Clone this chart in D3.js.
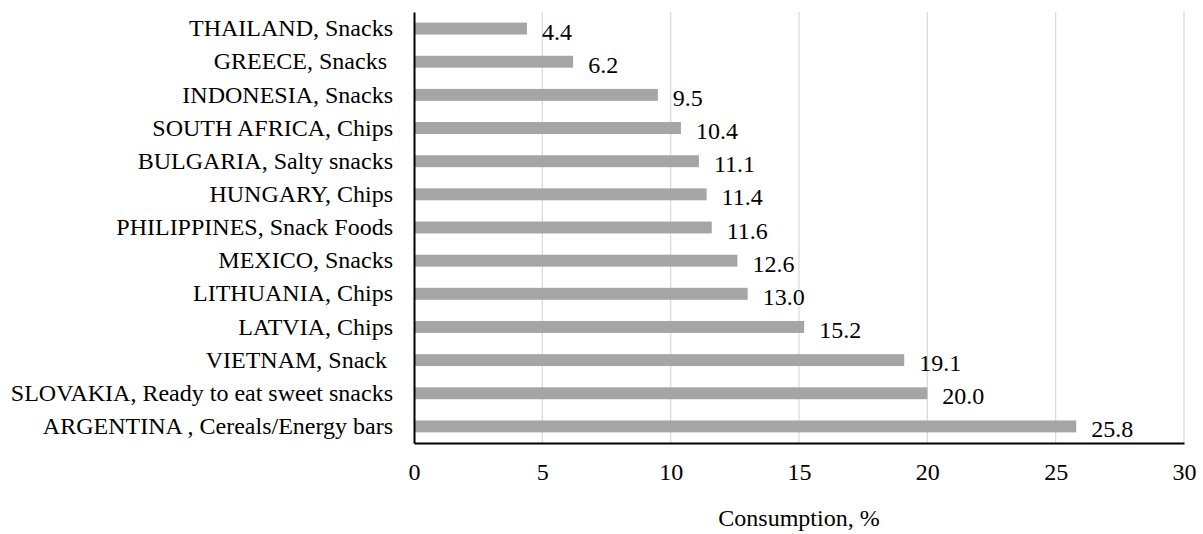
<!DOCTYPE html>
<html>
<head>
<meta charset="utf-8">
<script src="https://cdn.jsdelivr.net/npm/d3@7"></script>
<style>
  html, body { margin: 0; padding: 0; background: #fff; }
</style>
</head>
<body>
<svg id="chart" width="1203" height="534"></svg>
<script>
// Snack consumption by country and product category
const categories = [
  "THAILAND, Snacks",
  "GREECE, Snacks ",
  "INDONESIA, Snacks",
  "SOUTH AFRICA, Chips",
  "BULGARIA, Salty snacks",
  "HUNGARY, Chips",
  "PHILIPPINES, Snack Foods",
  "MEXICO, Snacks",
  "LITHUANIA, Chips",
  "LATVIA, Chips",
  "VIETNAM, Snack ",
  "SLOVAKIA, Ready to eat sweet snacks",
  "ARGENTINA , Cereals/Energy bars"
];
const values = [4.4, 6.2, 9.5, 10.4, 11.1, 11.4, 11.6, 12.6, 13.0, 15.2, 19.1, 20.0, 25.8];
const xTicks = [0, 5, 10, 15, 20, 25, 30];
const xTitle = "Consumption, %";

const FONT = "Liberation Serif";
const FS = 24;
const margin = { top: 12, right: 19, bottom: 91, left: 414 };
const width = 1203, height = 534;
const svg = d3.select("#chart");

const x = d3.scaleLinear().domain([0, 30]).range([margin.left, width - margin.right]);
const y = d3.scaleBand().domain(categories).range([margin.top, height - margin.bottom]).paddingInner(0.64).paddingOuter(0.32);

// vertical gridlines
svg.append("g")
  .selectAll("line")
  .data(xTicks.filter(d => d > 0))
  .join("line")
  .attr("x1", d => x(d)).attr("x2", d => x(d))
  .attr("y1", margin.top).attr("y2", height - margin.bottom)
  .attr("stroke", "#d9d9d9").attr("stroke-width", 1.2);

// bars
svg.append("g")
  .selectAll("rect")
  .data(values)
  .join("rect")
  .attr("x", x(0))
  .attr("y", (d, i) => y(categories[i]))
  .attr("width", d => x(d) - x(0))
  .attr("height", y.bandwidth())
  .attr("fill", "#a5a5a5");

// value labels
svg.append("g")
  .selectAll("text")
  .data(values)
  .join("text")
  .attr("x", d => x(d) + 15)
  .attr("y", (d, i) => y(categories[i]) + y.bandwidth() / 2 + 11)
  .attr("font-family", FONT)
  .attr("font-size", FS)
  .attr("fill", "#000")
  .text(d => d.toFixed(1));

// x axis
const xAxis = svg.append("g")
  .attr("transform", `translate(0,${height - margin.bottom})`)
  .call(d3.axisBottom(x).tickValues(xTicks).tickSize(0).tickPadding(20));
xAxis.attr("font-family", FONT).attr("font-size", FS);
xAxis.select(".domain").attr("stroke", "#000").attr("stroke-width", 2);
xAxis.selectAll("text").attr("fill", "#000");

// y axis
const yAxis = svg.append("g")
  .attr("transform", `translate(${margin.left},0)`)
  .call(d3.axisLeft(y).tickSize(0).tickPadding(21));
yAxis.attr("font-family", FONT).attr("font-size", FS);
yAxis.select(".domain").attr("stroke", "#000").attr("stroke-width", 2);
yAxis.selectAll("text").attr("fill", "#000").style("white-space", "pre");

// axis title
svg.append("text")
  .attr("x", (x(0) + x(30)) / 2)
  .attr("y", 526)
  .attr("text-anchor", "middle")
  .attr("font-family", FONT)
  .attr("font-size", FS)
  .attr("fill", "#000")
  .text(xTitle);
</script>
</body>
</html>
